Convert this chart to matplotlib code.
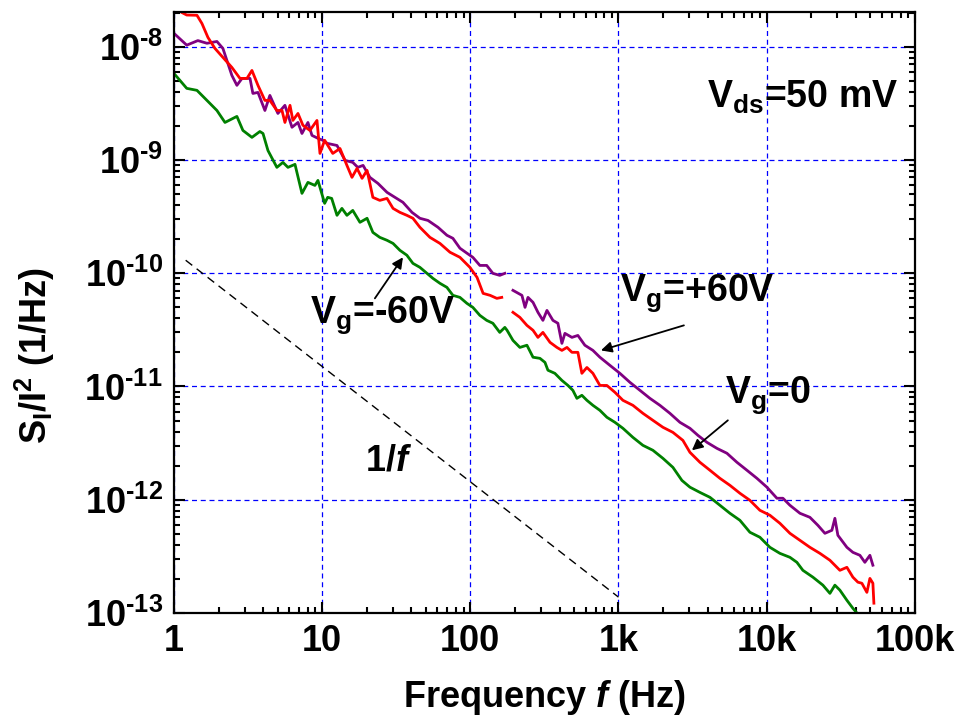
import numpy as np
import matplotlib
matplotlib.use('Agg')
import matplotlib.pyplot as plt
from matplotlib.ticker import FixedLocator, FixedFormatter, LogLocator, NullFormatter

plt.rcParams['font.family'] = ['Liberation Sans', 'DejaVu Sans']
plt.rcParams['font.weight'] = 'bold'
plt.rcParams['axes.labelweight'] = 'bold'
plt.rcParams['mathtext.fontset'] = 'custom'
plt.rcParams['mathtext.rm'] = 'Liberation Sans:bold'
plt.rcParams['mathtext.bf'] = 'Liberation Sans:bold'
plt.rcParams['mathtext.sf'] = 'Liberation Sans:bold'
plt.rcParams['mathtext.it'] = 'Liberation Sans:bold:italic'
plt.rcParams['mathtext.default'] = 'rm'

# ---------------- data ----------------
# Vg = +60 V (purple), low-frequency segment
purple_f_low = [1.0, 1.22, 1.45, 1.67, 1.95, 2.14, 2.46, 2.66, 2.88, 3.26, 3.41, 3.69, 4.11, 4.44, 5.03,
                5.61, 6.26, 6.87, 7.31, 8.02, 8.54, 9.37, 10.1, 10.8, 12.6, 14.3, 16.1, 17.4, 18.9, 21.0,
                23.8, 27.4, 31.0, 35.1, 40.4, 45.7, 51.8, 60.5, 69.5, 76.3, 85.1, 94.9, 104, 116, 129,
                142, 158, 171]
purple_S_low = [1.31e-8, 1.03e-8, 1.13e-8, 1.07e-8, 1.11e-8, 9.64e-9, 5.57e-9, 4.55e-9, 5.24e-9, 5.24e-9,
                3.86e-9, 3.94e-9, 2.73e-9, 3.71e-9, 2.57e-9, 3.03e-9, 1.94e-9, 2.14e-9, 1.71e-9, 2.14e-9,
                1.645e-9, 1.55e-9, 1.49e-9, 1.40e-9, 1.34e-9, 9.9e-10, 9.5e-10, 8.59e-10, 8.94e-10, 7.01e-10,
                6.20e-10, 5.17e-10, 4.67e-10, 4.22e-10, 3.44e-10, 3.05e-10, 2.92e-10, 2.54e-10, 2.16e-10,
                2.03e-10, 1.66e-10, 1.50e-10, 1.38e-10, 1.17e-10, 1.17e-10, 9.96e-11, 9.56e-11, 9.96e-11]
# Vg = +60 V (purple), high-frequency segment
purple_f_high = [194, 223, 234, 245, 265, 286, 309, 329, 361, 390, 415, 435, 485, 532, 593, 672, 749,
                 875, 1022, 1194, 1395, 1629, 1903, 2223, 2597, 3034, 3435, 3951, 4615, 5391, 6296, 7354,
                 8590, 10030, 11720, 12870, 14350, 16760, 19570, 22160, 24710, 27540, 28860, 30230, 34770,
                 38170, 42560, 45980, 49720, 52080]
purple_S_high = [7.05e-11, 6.37e-11, 4.99e-11, 6.11e-11, 5.52e-11, 4.51e-11, 3.83e-11, 4.69e-11,
                 3.83e-11, 3.61e-11, 2.40e-11, 2.94e-11, 2.71e-11, 2.82e-11, 2.31e-11, 2.08e-11, 1.81e-11,
                 1.535e-11, 1.305e-11, 1.087e-11, 9.24e-12, 7.85e-12, 6.81e-12, 5.79e-12, 4.82e-12, 4.27e-12,
                 3.70e-12, 3.21e-12, 2.84e-12, 2.57e-12, 2.14e-12, 1.82e-12, 1.545e-12, 1.29e-12, 1.03e-12,
                 1.03e-12, 8.93e-13, 7.59e-13, 6.99e-13, 5.94e-13, 5.05e-13, 5.37e-13, 6.85e-13, 4.85e-13,
                 3.80e-13, 3.43e-13, 3.23e-13, 2.80e-13, 3.23e-13, 2.64e-13]

# Vg = 0 (red)
red_f_low = [1.0, 1.13, 1.22, 1.43, 1.545, 1.696, 1.891, 2.14, 2.46, 2.79, 3.11, 3.36, 3.69, 4.11, 4.44,
             4.95, 5.36, 5.61, 6.07, 6.35, 6.87, 7.42, 8.27, 9.23, 9.67, 10.4, 11.8, 13.2, 14.7, 15.9,
             17.2, 18.6, 20.1, 22.0, 24.5, 27.4, 30.1, 33.5, 37.3, 41.0, 45.7, 53.4, 62.4, 72.9, 85.1,
             99.4, 111, 122, 136, 151, 163]
red_S_low = [2.3e-8, 2.0e-8, 1.9e-8, 1.89e-8, 1.6e-8, 1.205e-8, 9.64e-9, 8.03e-9, 6.55e-9, 5.24e-9, 5.24e-9,
             6.16e-9, 4.55e-9, 3.35e-9, 3.35e-9, 2.73e-9, 2.73e-9, 2.14e-9, 3.03e-9, 2.23e-9, 2.57e-9,
             2.02e-9, 1.82e-9, 2.23e-9, 1.14e-9, 1.49e-9, 1.14e-9, 1.26e-9, 8.94e-10, 7.01e-10, 8.41e-10,
             6.87e-10, 8.08e-10, 4.67e-10, 4.39e-10, 4.57e-10, 3.73e-10, 3.44e-10, 3.24e-10, 3.05e-10,
             2.54e-10, 2.07e-10, 1.83e-10, 1.53e-10, 1.38e-10, 1.125e-10, 9.18e-11, 6.63e-11, 6.37e-11,
             5.99e-11, 6.11e-11]
red_f_high = [194, 216, 241, 265, 286, 309, 345, 384, 415, 449, 485, 532, 566, 612, 672, 749, 835, 946,
              1071, 1251, 1461, 1707, 1993, 2329, 2720, 3034, 3543, 4139, 4834, 5646, 6596, 7703, 9000,
              10510, 12280, 14350, 16760, 19570, 22870, 26710, 31190, 34770, 38170, 41250, 43900, 47440,
              49720, 52080, 52900]
red_S_high = [4.51e-11, 4.07e-11, 3.46e-11, 3.13e-11, 2.71e-11, 3.00e-11, 2.45e-11, 2.21e-11,
              2.08e-11, 2.21e-11, 2.00e-11, 2.00e-11, 1.305e-11, 1.47e-11, 1.305e-11, 1.02e-11, 1.02e-11,
              8.87e-12, 7.54e-12, 6.81e-12, 5.79e-12, 5.02e-12, 4.36e-12, 3.93e-12, 3.34e-12, 2.62e-12,
              2.14e-12, 1.82e-12, 1.545e-12, 1.34e-12, 1.14e-12, 9.88e-13, 8.06e-13, 7.29e-13, 6.19e-13,
              5.05e-13, 4.38e-13, 3.80e-13, 3.36e-13, 2.92e-13, 2.38e-13, 2.53e-13, 2.07e-13, 1.87e-13,
              1.83e-13, 1.52e-13, 2.02e-13, 1.83e-13, 1.22e-13]

# Vg = -60 V (green)
green_f = [1.0, 1.22, 1.43, 1.67, 1.95, 2.21, 2.66, 2.92, 3.36, 3.80, 3.99, 4.31, 4.95, 5.44, 5.88, 6.56,
           7.31, 8.02, 8.94, 9.37, 10.4, 10.9, 11.6, 12.6, 13.6, 14.7, 16.1, 18.0, 20.1, 22.0, 24.5, 27.4,
           30.1, 33.5, 37.3, 41.0, 45.7, 51.0, 55.9, 62.4, 69.5, 76.3, 85.1, 94.9, 104, 116, 129, 142, 158,
           171, 177, 194, 216, 241, 265, 295, 319, 334, 372, 415, 456, 492, 524, 566, 612, 672, 749, 835,
           946, 1071, 1251, 1461, 1707, 1993, 2329, 2679, 3034, 3543, 4139, 4834, 5646, 6596, 7703, 9000,
           10510, 12280, 14350, 15990, 17550, 20510, 23950, 26710, 28860, 31190, 34770, 38170, 40620, 43900]
green_S = [5.80e-9, 4.28e-9, 4.11e-9, 3.35e-9, 2.73e-9, 2.14e-9, 2.42e-9, 1.82e-9, 1.58e-9, 1.78e-9,
           1.71e-9, 1.21e-9, 8.59e-10, 9.5e-10, 8.59e-10, 9.13e-10, 5.06e-10, 6.33e-10, 5.95e-10, 6.59e-10,
           4.13e-10, 4.67e-10, 4.57e-10, 3.24e-10, 3.73e-10, 3.24e-10, 3.58e-10, 2.81e-10, 3.05e-10, 2.29e-10,
           2.07e-10, 1.95e-10, 1.83e-10, 1.59e-10, 1.44e-10, 1.22e-10, 1.125e-10, 9.96e-11, 9.0e-11, 8.13e-11,
           7.49e-11, 6.37e-11, 6.11e-11, 5.41e-11, 4.99e-11, 4.24e-11, 3.83e-11, 3.61e-11, 3.00e-11, 3.32e-11,
           3.13e-11, 2.55e-11, 2.21e-11, 2.31e-11, 1.81e-11, 1.77e-11, 1.63e-11, 1.39e-11, 1.305e-11,
           1.13e-11, 1.02e-11, 9.24e-12, 7.85e-12, 8.35e-12, 7.54e-12, 6.81e-12, 6.15e-12, 5.34e-12, 4.82e-12,
           4.27e-12, 3.55e-12, 3.02e-12, 2.73e-12, 2.32e-12, 1.93e-12, 1.48e-12, 1.29e-12, 1.16e-12, 1.05e-12,
           8.93e-13, 7.59e-13, 6.58e-13, 5.16e-13, 4.66e-13, 3.80e-13, 3.36e-13, 3.10e-13, 2.80e-13, 2.38e-13,
           2.07e-13, 1.76e-13, 1.49e-13, 1.76e-13, 1.59e-13, 1.295e-13, 1.10e-13, 1.0e-13, 9.0e-14]

# 1/f guide line (end points)
guide_f = [1.2, 1000]
guide_S = [1.3e-10, 1.38e-13]

x_ticks = [1, 10, 100, 1e3, 1e4, 1e5]
x_tick_labels = ['1', '10', '100', '1k', '10k', '100k']
y_ticks = [1e-13, 1e-12, 1e-11, 1e-10, 1e-9, 1e-8]
y_tick_labels = [r'$10^{\text{-13}}$', r'$10^{\text{-12}}$', r'$10^{\text{-11}}$',
                 r'$10^{\text{-10}}$', r'$10^{\text{-9}}$', r'$10^{\text{-8}}$']

# ---------------- figure ----------------
fig = plt.figure(figsize=(9.61, 7.28), dpi=100)
ax = fig.add_axes([0.181, 0.158, 0.771, 0.8255])

ax.set_xscale('log')
ax.set_yscale('log')

purple = '#800080'
red = '#ff0000'
green = '#008000'
lw = 2.0

ax.plot(purple_f_low, purple_S_low, color=purple, lw=lw)
ax.plot(purple_f_high, purple_S_high, color=purple, lw=lw)
ax.plot(red_f_low, red_S_low, color=red, lw=lw)
ax.plot(red_f_high, red_S_high, color=red, lw=lw)
ax.plot(green_f, green_S, color=green, lw=lw)
ax.plot(guide_f, guide_S, color='black', lw=1.0, linestyle=(0, (6, 4)))

ax.set_xlim(1, 1e5)
ax.set_ylim(1e-13, 2.02e-8)

ax.xaxis.set_major_locator(FixedLocator(x_ticks))
ax.xaxis.set_major_formatter(FixedFormatter(x_tick_labels))
ax.yaxis.set_major_locator(FixedLocator(y_ticks))
ax.yaxis.set_major_formatter(FixedFormatter(y_tick_labels))
ax.xaxis.set_minor_locator(LogLocator(base=10, subs=np.arange(2, 10), numticks=20))
ax.yaxis.set_minor_locator(LogLocator(base=10, subs=np.arange(2, 10), numticks=20))
ax.xaxis.set_minor_formatter(NullFormatter())
ax.yaxis.set_minor_formatter(NullFormatter())

ax.tick_params(which='both', direction='in', top=True, right=True, width=1.5, labelsize=26)
ax.tick_params(which='major', length=8, pad=8)
ax.tick_params(which='minor', length=4.5)
for sp in ax.spines.values():
    sp.set_linewidth(1.6)

ax.grid(True, which='major', color='#0000ff', linestyle=(0, (4, 3)), linewidth=0.9)

ax.set_xlabel(r'Frequency $\mathit{f}$ (Hz)', fontsize=26, fontweight='bold')
ax.set_ylabel(r'$S_I/I^2\ (1/Hz)$', fontsize=26, fontweight='bold')
ax.xaxis.set_label_coords(0.5, -0.108)
ax.yaxis.set_label_coords(-0.158, 0.428)

# annotations
ax.text(3950, 2.91e-9, r'$V_{ds}$=50 mV', fontsize=27, ha='left', va='baseline')
ax.text(8.27, 3.68e-11, r'$V_g$=-60V', fontsize=27, ha='left', va='baseline')
ax.text(1022, 5.75e-11, r'$V_g$=+60V', fontsize=27, ha='left', va='baseline')
ax.text(5224, 7.24e-12, r'$V_g$=0', fontsize=27, ha='left', va='baseline')
ax.text(19.4, 1.82e-12, r'1/$\mathit{f}$', fontsize=26, ha='left', va='baseline')

arrow = dict(arrowstyle='-|>', color='black', lw=1.3, mutation_scale=16, shrinkA=0, shrinkB=0)
ax.annotate('', xy=(35.1, 1.38e-10), xytext=(22.7, 5.99e-11), arrowprops=arrow)
ax.annotate('', xy=(761, 2.08e-11), xytext=(2763, 3.46e-11), arrowprops=arrow)
ax.annotate('', xy=(3129, 2.73e-12), xytext=(5470, 5.02e-12), arrowprops=arrow)

fig.savefig('out.png', dpi=100)
